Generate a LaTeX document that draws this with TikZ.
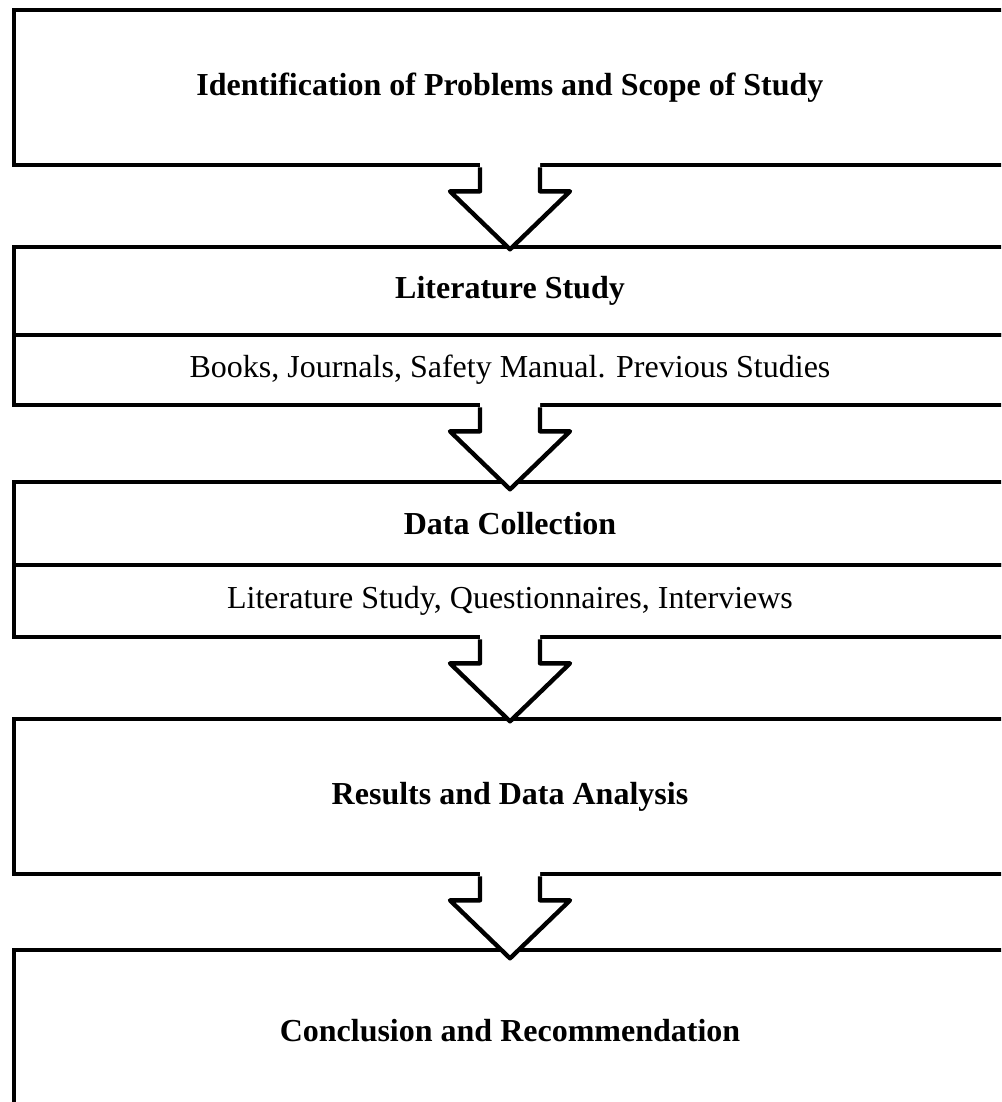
\documentclass[tikz,border=0pt]{standalone}
\usepackage{fontspec}
\setmainfont{Liberation Serif}
\usetikzlibrary{calc}
\begin{document}
\begin{tikzpicture}[x=0.75pt,y=-0.75pt,
  box/.style={draw, line width=3.5pt, fill=white, inner sep=0pt, minimum width=744pt,
    font=\fontsize{24}{28}\selectfont},
  title/.style={font=\fontsize{24}{28}\selectfont\bfseries},
  arrline/.style={line width=3.3pt, line join=round}]
\useasboundingbox (0,0) rectangle (1001,1102);
\clip (0,0) rectangle (1001,1102);
\fill[white] (0,0) rectangle (1001,1102);
% boxes (right edge at x=1006, outside the page)
\node[box, title, minimum height=116.25pt] (b1) at (510,87.5) {Identification of Problems and Scope of Study};
\node[box, title, minimum height=66pt] (b2a) at (510,291) {Literature Study};
\node[box, minimum height=52.5pt] (b2b) at (510,370) {Books, Journals, Safety Manual. Previous Studies};
\node[box, title, minimum height=62.25pt] (b3a) at (510,523.5) {Data Collection};
\node[box, minimum height=54pt] (b3b) at (510,601) {Literature Study, Questionnaires, Interviews};
\node[box, title, minimum height=116.25pt] (b4) at (510,796.5) {Results and Data Analysis};
\node[box, title, minimum height=121.5pt] (b5) at (510,1031) {Conclusion and Recommendation};
% block arrows
\foreach \s/\t in {b1/b2a, b2b/b3a, b3b/b4, b4/b5} {
  \coordinate (tip\s) at ($(\s.south)+(0,82)$);
  \fill[white] ($(\s.south)+(-30,-8)$) -- ($(\s.south)+(-30,24)$) -- ($(\s.south)+(-60,24)$)
     -- (tip\s) -- ($(\s.south)+(60,24)$) -- ($(\s.south)+(30,24)$) -- ($(\s.south)+(30,-8)$) -- cycle;
  \draw[arrline] ($(\s.south)+(-30,0)$) -- ($(\s.south)+(-30,24)$) -- ($(\s.south)+(-60,24)$)
     -- (tip\s) -- ($(\s.south)+(60,24)$) -- ($(\s.south)+(30,24)$) -- ($(\s.south)+(30,0)$);
}
\end{tikzpicture}
\end{document}
